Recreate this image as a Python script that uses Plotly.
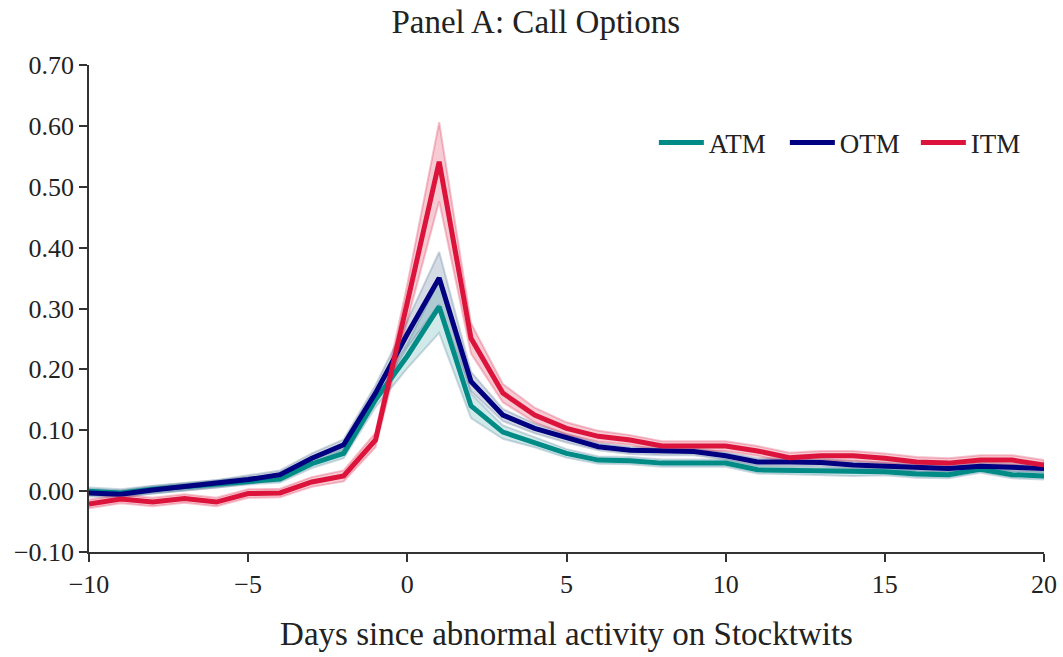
import plotly.graph_objects as go

days = list(range(-10, 21))

atm = [0.000, -0.003, 0.003, 0.007, 0.012, 0.017, 0.020, 0.045, 0.062, 0.150, 0.222, 0.303,
       0.140, 0.097, 0.080, 0.062, 0.051, 0.050, 0.046, 0.046, 0.046, 0.035, 0.034, 0.032,
       0.031, 0.032, 0.028, 0.027, 0.036, 0.027, 0.025]
otm = [-0.003, -0.005, 0.002, 0.007, 0.012, 0.019, 0.027, 0.054, 0.076, 0.161, 0.258, 0.350,
       0.180, 0.125, 0.103, 0.087, 0.073, 0.067, 0.065, 0.065, 0.058, 0.048, 0.048, 0.047,
       0.043, 0.041, 0.038, 0.037, 0.041, 0.039, 0.037]
itm = [-0.021, -0.013, -0.018, -0.012, -0.018, -0.004, -0.003, 0.015, 0.025, 0.084, 0.310, 0.541,
       0.251, 0.161, 0.125, 0.103, 0.090, 0.084, 0.074, 0.074, 0.074, 0.066, 0.055, 0.058,
       0.058, 0.054, 0.048, 0.046, 0.051, 0.051, 0.043]

atm_ci = [0.006, 0.006, 0.006, 0.006, 0.006, 0.006, 0.006, 0.007, 0.008, 0.012, 0.020, 0.043,
          0.020, 0.011, 0.008, 0.007, 0.006, 0.006, 0.006, 0.006, 0.006, 0.006, 0.006, 0.006,
          0.006, 0.006, 0.006, 0.006, 0.006, 0.006, 0.006]
otm_ci = [0.006, 0.006, 0.006, 0.006, 0.006, 0.007, 0.007, 0.008, 0.009, 0.013, 0.022, 0.043,
          0.016, 0.010, 0.008, 0.007, 0.006, 0.006, 0.006, 0.006, 0.006, 0.006, 0.006, 0.006,
          0.006, 0.006, 0.006, 0.006, 0.006, 0.006, 0.006]
itm_ci = [0.007, 0.007, 0.007, 0.007, 0.007, 0.007, 0.007, 0.008, 0.009, 0.012, 0.030, 0.065,
          0.025, 0.015, 0.012, 0.010, 0.009, 0.008, 0.008, 0.008, 0.008, 0.008, 0.008, 0.008,
          0.008, 0.008, 0.008, 0.008, 0.008, 0.008, 0.008]

series = [
    ("ATM", atm, atm_ci, "#008B87", "rgba(0,139,135,0.18)", "rgba(90,130,160,0.30)"),
    ("OTM", otm, otm_ci, "#000080", "rgba(60,90,130,0.22)", "rgba(90,120,150,0.30)"),
    ("ITM", itm, itm_ci, "#DC143C", "rgba(220,20,60,0.22)", "rgba(220,20,60,0.25)"),
]

fig = go.Figure()

for name, vals, ci, col, fillcol, edgecol in series:
    upper = [v + c for v, c in zip(vals, ci)]
    lower = [v - c for v, c in zip(vals, ci)]
    fig.add_trace(go.Scatter(x=days + days[::-1], y=upper + lower[::-1], fill="toself",
                             fillcolor=fillcol, line=dict(color=edgecol, width=2),
                             mode="lines", showlegend=False, hoverinfo="skip"))

for name, vals, ci, col, fillcol, edgecol in series:
    fig.add_trace(go.Scatter(x=days, y=vals, mode="lines", name=name,
                             line=dict(color=col, width=5)))

font_family = "Liberation Serif, DejaVu Serif, serif"

fig.update_layout(
    width=1063, height=657,
    margin=dict(l=89, r=19, t=65, b=105),
    paper_bgcolor="white", plot_bgcolor="white",
    font=dict(family=font_family, size=26, color="#222222"),
    title=dict(text="Panel A: Call Options", x=0.504, xanchor="center",
               y=0.968, yanchor="middle", font=dict(size=33, family=font_family, color="#222222")),
    legend=dict(orientation="h", x=1.003, xanchor="right", y=0.84, yanchor="middle",
                font=dict(size=27), bgcolor="rgba(0,0,0,0)", traceorder="normal",
                itemwidth=45, entrywidth=71, entrywidthmode="pixels"),
    showlegend=True,
)

fig.update_xaxes(range=[-10, 20], tickmode="array", tickvals=[-10, -5, 0, 5, 10, 15, 20],
                 automargin=False,
                 showgrid=False, zeroline=False, showline=True, linecolor="#333333", linewidth=1.5,
                 ticks="outside", ticklen=8, tickwidth=1.5, tickcolor="#333333",
                 title=dict(text="Days since abnormal activity on Stocktwits", font=dict(size=33),
                            standoff=24),
                 tickfont=dict(size=26))
fig.update_yaxes(range=[-0.1, 0.7], tickmode="array",
                 tickvals=[-0.1, 0.0, 0.1, 0.2, 0.3, 0.4, 0.5, 0.6, 0.7], tickformat=".2f",
                 automargin=False,
                 showgrid=False, zeroline=False, showline=True, linecolor="#333333", linewidth=1.5,
                 ticks="outside", ticklen=8, tickwidth=1.5, tickcolor="#333333",
                 tickfont=dict(size=26))

fig.write_html("out.html")
